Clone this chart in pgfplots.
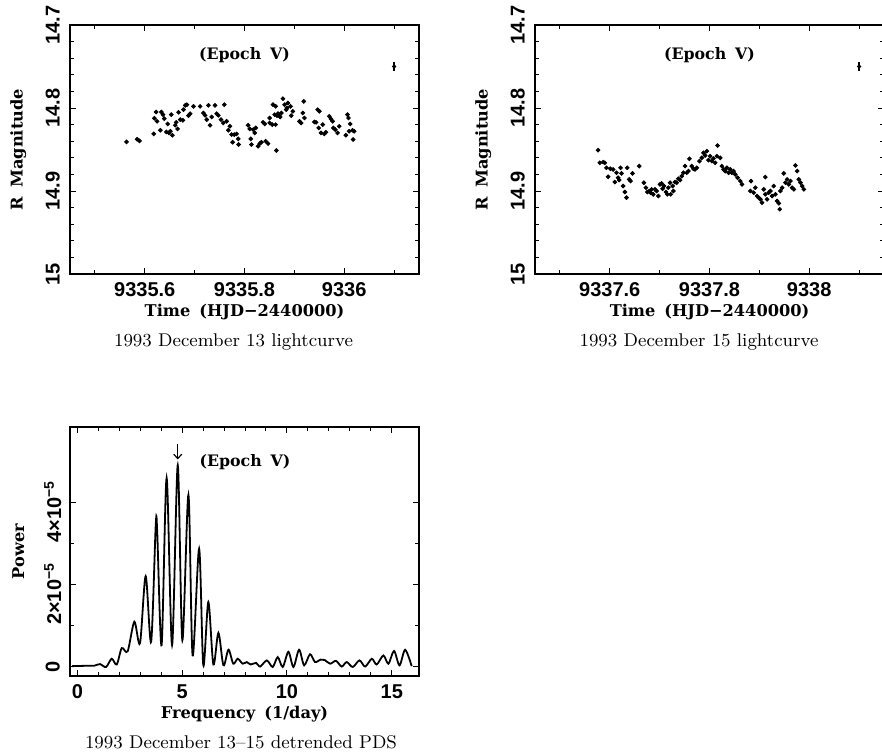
\documentclass[border=0pt]{standalone}
\usepackage{fontspec}
\usepackage{pgfplots}
\pgfplotsset{compat=1.18}
\usetikzlibrary{arrows.meta}
\newfontfamily\lblfont{DejaVu Serif}[WordSpace=1.6]
\newfontfamily\tickfont{Liberation Sans}
% Time values are stored as HJD-2440000 minus 9335 (panel 1) or 9337 (panel 2)
\pgfplotstableread{
x y
0.5635 14.8408
0.5847 14.8376
0.5894 14.8396
0.6179 14.8312
0.6193 14.8124
0.6226 14.8048
0.6246 14.8160
0.6312 14.8268
0.6332 14.8048
0.6365 14.8080
0.6392 14.8128
0.6459 14.8192
0.6432 14.8288
0.6485 14.8300
0.6532 14.8080
0.6512 14.8280
0.6552 14.8328
0.6611 14.8208
0.6631 14.8172
0.6658 14.8252
0.6678 14.8052
0.6711 14.8140
0.6764 14.8148
0.6777 14.8020
0.6811 14.7968
0.6844 14.7960
0.6877 14.8092
0.6910 14.8068
0.6977 14.7980
0.7110 14.7980
0.7176 14.8060
0.7209 14.8088
0.7243 14.8140
0.7276 14.7968
0.7309 14.8208
0.7342 14.8108
0.7409 14.7968
0.7442 14.8068
0.7475 14.8088
0.7528 14.8140
0.7575 14.8180
0.7595 14.7960
0.7641 14.8160
0.7675 14.8268
0.7708 14.8220
0.7741 14.8320
0.7761 14.8412
0.7794 14.8320
0.7841 14.8312
0.7881 14.8440
0.7874 14.8372
0.8073 14.8208
0.8106 14.8252
0.8126 14.8372
0.8173 14.8260
0.8206 14.8300
0.8226 14.8240
0.8140 14.8440
0.8273 14.8460
0.8306 14.8428
0.8339 14.8412
0.8372 14.8172
0.8406 14.8192
0.8425 14.8400
0.8472 14.8428
0.8505 14.8180
0.8505 14.8120
0.8558 14.8200
0.8572 14.7960
0.8605 14.8080
0.8625 14.7980
0.8638 14.8512
0.8671 14.8068
0.8705 14.8100
0.8738 14.8060
0.8771 14.7888
0.8804 14.7960
0.8837 14.8020
0.8871 14.7940
0.8624 14.8200
0.8651 14.8092
0.8717 14.8108
0.8850 14.8000
0.8923 14.7980
0.8937 14.8092
0.8970 14.8040
0.9103 14.8160
0.9136 14.8180
0.9169 14.8060
0.9189 14.7920
0.9203 14.8120
0.9402 14.8168
0.9435 14.8172
0.9468 14.8020
0.9502 14.8040
0.9488 14.8240
0.9535 14.8300
0.9568 14.8200
0.9601 14.8312
0.9634 14.8292
0.9701 14.8100
0.9734 14.8132
0.9767 14.8160
0.9781 14.8240
0.9821 14.8260
0.9867 14.8300
0.9900 14.8220
1.0033 14.8328
1.0066 14.8080
1.0086 14.8120
1.0120 14.8192
1.0100 14.8280
1.0166 14.8268
1.0179 14.8380
1.0199 14.8280
}\lcA
\pgfplotstableread{
x y
0.5765 14.8508
0.5799 14.8660
0.5866 14.8652
0.5899 14.8660
0.5933 14.8720
0.5966 14.8828
0.6013 14.8732
0.6067 14.8740
0.6101 14.8892
0.6134 14.8780
0.6168 14.8840
0.6188 14.8868
0.6215 14.8720
0.6235 14.8788
0.6268 14.8940
0.6302 14.9012
0.6336 14.9080
0.6349 14.8720
0.6389 14.8860
0.6416 14.8880
0.6456 14.8788
0.6590 14.8700
0.6684 14.8900
0.6725 14.8960
0.6752 14.9012
0.6792 14.9000
0.6819 14.9020
0.6839 14.8980
0.6872 14.9040
0.6906 14.8980
0.6939 14.9000
0.6973 14.9060
0.7007 14.8920
0.7040 14.8908
0.7060 14.8972
0.7087 14.8940
0.7127 14.9012
0.7154 14.9040
0.7174 14.8960
0.7208 14.8900
0.7221 14.9040
0.7261 14.8940
0.7275 14.9000
0.7308 14.8892
0.7342 14.8900
0.7376 14.8852
0.7409 14.8868
0.7443 14.8820
0.7476 14.8780
0.7510 14.8700
0.7543 14.8780
0.7577 14.8760
0.7597 14.8612
0.7644 14.8700
0.7678 14.8732
0.7711 14.8740
0.7745 14.8720
0.7798 14.8640
0.7846 14.8600
0.7879 14.8540
0.7913 14.8572
0.7946 14.8520
0.7980 14.8628
0.8013 14.8580
0.8047 14.8640
0.8080 14.8608
0.8114 14.8660
0.8161 14.8452
0.8148 14.8580
0.8215 14.8600
0.8248 14.8700
0.8282 14.8740
0.8315 14.8760
0.8349 14.8720
0.8382 14.8780
0.8416 14.8740
0.8449 14.8780
0.8483 14.8760
0.8517 14.8800
0.8564 14.8840
0.8617 14.8880
0.8651 14.8920
0.8832 14.8880
0.8819 14.9000
0.8886 14.9020
0.8919 14.8960
0.8953 14.9060
0.8986 14.9080
0.9020 14.9100
0.9053 14.9140
0.9087 14.8980
0.9120 14.8832
0.9120 14.9040
0.9154 14.9100
0.9188 14.9020
0.9221 14.9000
0.9255 14.9060
0.9288 14.8940
0.9322 14.9040
0.9355 14.9120
0.9389 14.9148
0.9409 14.9220
0.9422 14.9000
0.9456 14.8960
0.9490 14.8788
0.9523 14.8900
0.9557 14.8860
0.9590 14.8920
0.9624 14.8880
0.9657 14.8960
0.9691 14.8980
0.9724 14.8692
0.9758 14.8760
0.9791 14.8860
0.9825 14.8900
0.9859 14.8940
0.9892 14.8980
}\lcB
\pgfplotstableread{
f p
-0.25 0.02
0.50 0.03
0.80 0.03
1.08 0.07
1.37 0.00
1.64 0.20
1.88 0.06
2.12 0.46
2.40 0.38
2.72 1.10
2.99 0.58
3.26 2.21
3.52 0.61
3.74 3.45
3.81 3.30
4.02 0.53
4.26 4.60
4.52 0.53
4.79 4.91
5.01 0.65
5.30 4.19
5.50 0.28
5.81 2.88
6.01 0.04
6.25 1.58
6.49 0.06
6.73 0.83
6.97 0.04
7.21 0.42
7.44 0.08
7.65 0.20
7.89 0.08
8.08 0.12
8.27 0.06
8.53 0.10
8.72 0.01
9.04 0.16
9.32 0.00
9.56 0.24
9.80 0.00
10.07 0.37
10.31 0.00
10.58 0.42
10.82 0.04
11.10 0.31
11.34 0.12
11.60 0.18
11.80 0.17
12.06 0.08
12.34 0.15
12.61 0.01
12.85 0.12
13.14 0.00
13.46 0.16
13.73 0.01
14.05 0.20
14.28 0.06
14.60 0.28
14.84 0.08
15.11 0.39
15.37 0.04
15.64 0.42
15.95 0.02
}\pds
\tikzset{ep/.style={font=\lblfont\bfseries\fontsize{7.9}{10}\selectfont}}
\begin{document}
\begin{tikzpicture}
\path[use as bounding box] (0,0) rectangle (441pt,-375.5pt);
\pgfplotsset{
  myax/.style={
    scale only axis, width=174.5pt, height=124.5pt, anchor=south west,
    axis line style={line width=0.6pt},
    tick style={line width=0.5pt, black},
    major tick length=3.2pt, minor tick length=2pt,
    tick align=inside,
    ticklabel style={font=\tickfont\bfseries\fontsize{10}{11}\selectfont},
    xticklabel style={anchor=center, yshift=-8pt},
    yticklabel style={xshift=-8.6pt, anchor=center, rotate=90},
    label style={font=\lblfont\bfseries\fontsize{8.1}{10}\selectfont},
    xlabel style={at={(axis description cs:0.5,-0.1514)}, anchor=center},
    ylabel style={at={(axis description cs:-0.148,0.5)}, anchor=center},
  },
  lc/.style={myax, xmin=0.45, xmax=1.15, ymin=14.7, ymax=15, y dir=reverse,
    xtick={0.6,0.8,1.0}, minor xtick={0.5,0.7,0.9,1.1},
    ytick={14.7,14.8,14.9,15}, yticklabels={14.7,14.8,14.9,15}, minor y tick num=4,
    xlabel={Time (HJD−2440000)}, ylabel={R Magnitude}},
}
% Panel 1
\begin{axis}[lc, at={(35pt,-137pt)}, xticklabels={9335.6,9335.8,9336}]
\addplot[only marks, mark=*, mark size=0.95pt, black] table[x=x,y=y] {\lcA};
\addplot[black, only marks, mark=*, mark size=0.85pt,
  error bars/.cd, y dir=both, y explicit, error mark=none,
  error bar style={line width=0.6pt}] coordinates {(1.1,14.75) +- (0,0.006)};
\node[ep] at (axis cs:0.8,14.736) {(Epoch V)};
\end{axis}
% Panel 2
\begin{axis}[lc, at={(267.5pt,-137pt)}, xticklabels={9337.6,9337.8,9338}]
\addplot[only marks, mark=*, mark size=0.95pt, black] table[x=x,y=y] {\lcB};
\addplot[black, only marks, mark=*, mark size=0.85pt,
  error bars/.cd, y dir=both, y explicit, error mark=none,
  error bar style={line width=0.6pt}] coordinates {(1.1,14.75) +- (0,0.006)};
\node[ep] at (axis cs:0.8,14.736) {(Epoch V)};
\end{axis}
% Panel 3
\begin{axis}[myax, at={(35pt,-338pt)}, xmin=-0.35, xmax=16.3, ymin=-0.22, ymax=5.84,
  xtick={0,5,10,15}, xticklabels={0,5,10,15}, minor x tick num=4,
  ytick={0,2,4}, yticklabels={0,{2×10\textsuperscript{−5}\kern9pt},{4×10\textsuperscript{−5}\kern9pt}},
  minor y tick num=1,
  xlabel={Frequency (1/day)}, ylabel={Power}]
\addplot[black, line width=0.9pt, smooth, tension=0.5] table[x=f,y=p] {\pds};
\draw[-{Straight Barb[length=2.2pt,width=4pt]}, line width=0.6pt] (axis cs:4.79,5.42) -- (axis cs:4.79,5.05);
\node[ep] at (axis cs:8.0,4.99) {(Epoch V)};
\end{axis}
\node[font=\fontsize{9.2}{11}\selectfont] at (116.75pt,-170.85pt) {1993 December 13 lightcurve};
\node[font=\fontsize{9.2}{11}\selectfont] at (349.5pt,-170.85pt) {1993 December 15 lightcurve};
\node[font=\fontsize{9.2}{11}\selectfont] at (120.5pt,-370.85pt) {1993 December 13–15 detrended PDS};
\end{tikzpicture}
\end{document}
